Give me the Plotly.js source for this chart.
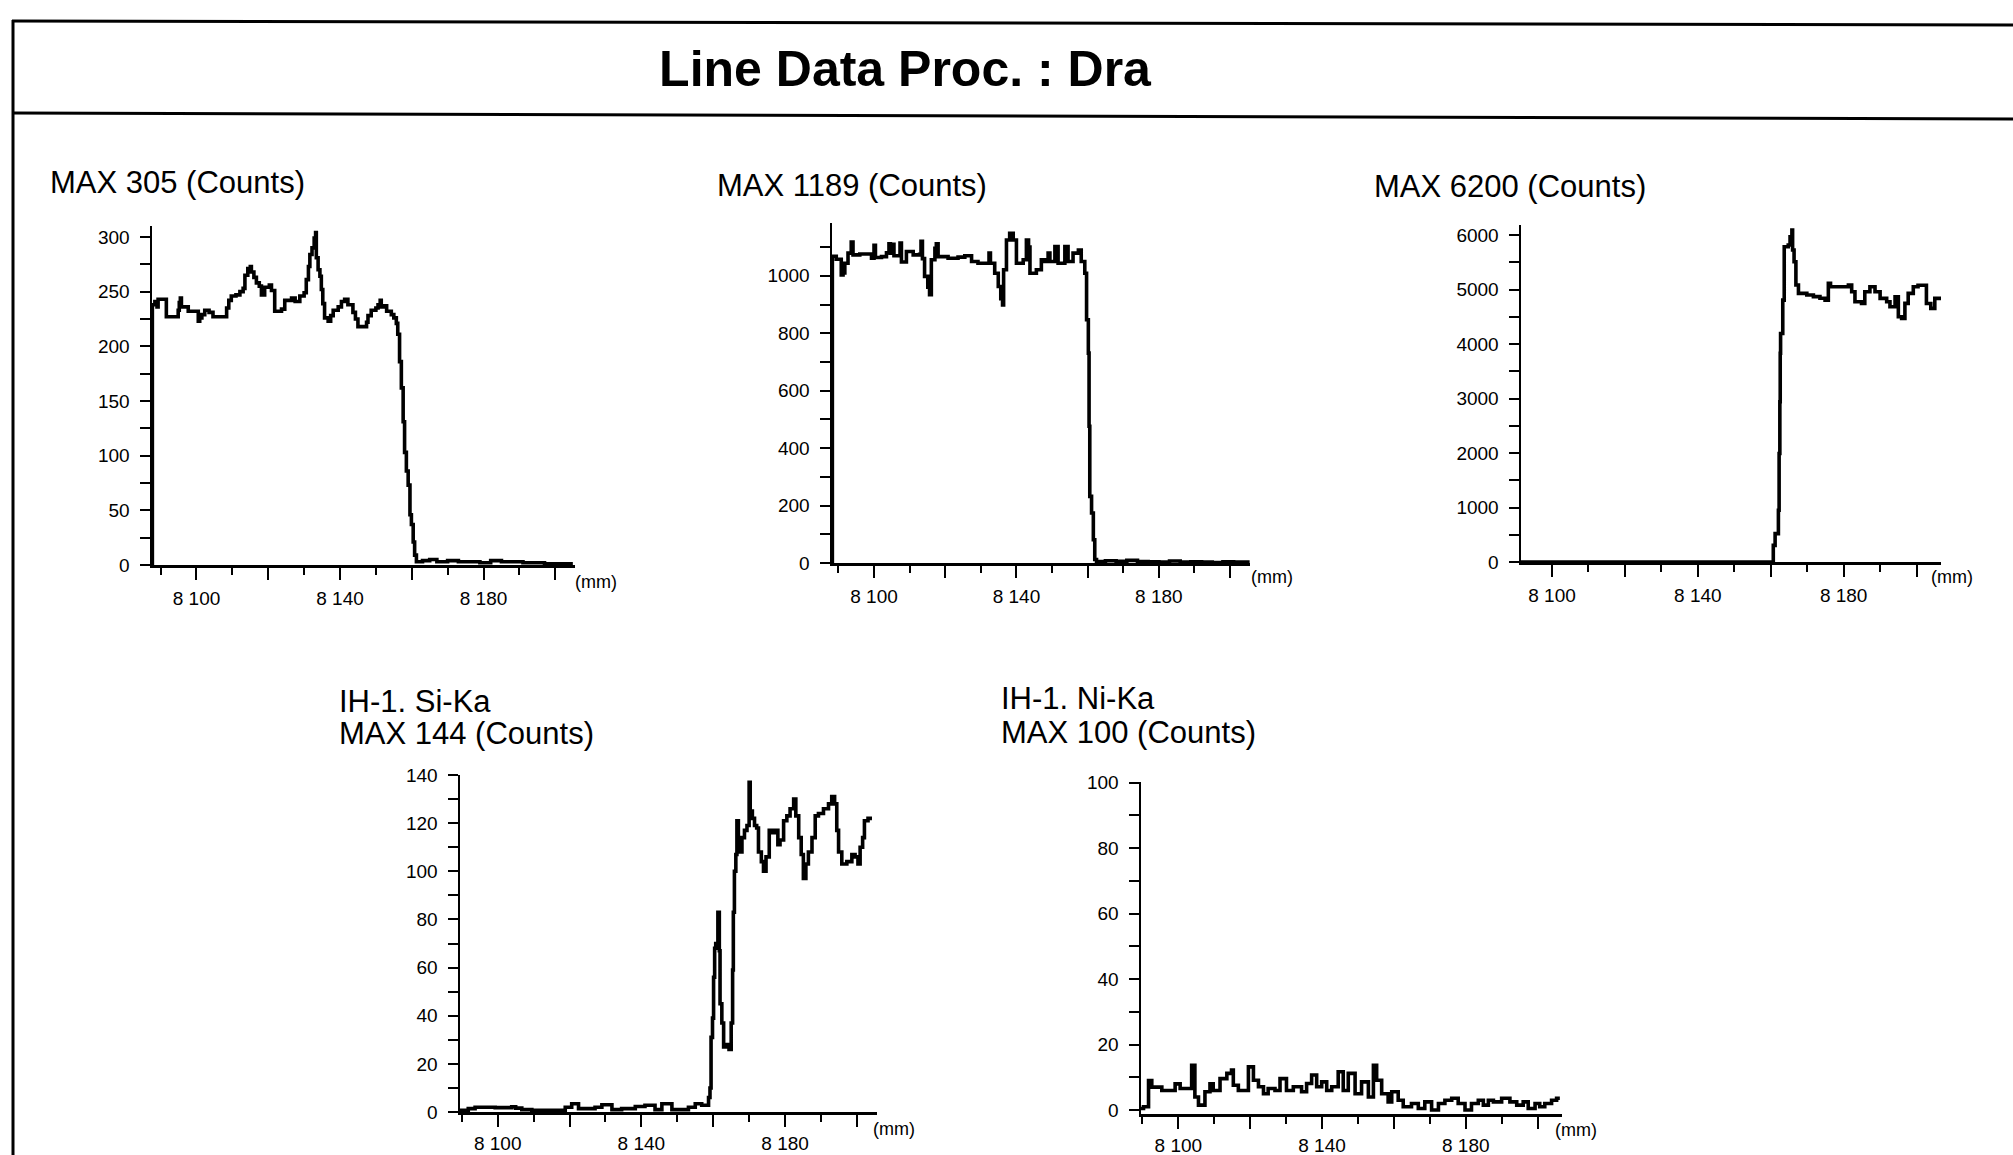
<!DOCTYPE html>
<html>
<head>
<meta charset="utf-8">
<script src="https://cdn.plot.ly/plotly-3.0.1.min.js"></script>
<style>html,body{margin:0;padding:0;background:#fff;}#chart{width:2013px;height:1155px;}</style>
</head>
<body>
<div id="chart"></div>
<script>
// ---------------- DATA ----------------
const mainTitle = 'Line Data Proc. : Dra';
const panelTitles = ['MAX 305 (Counts)', 'MAX 1189 (Counts)', 'MAX 6200 (Counts)', 'IH-1. Si-Ka<br>MAX 144 (Counts)', 'IH-1. Ni-Ka<br>MAX 100 (Counts)'];
const unitLabel = '(mm)';

// x tick labels (mm)
const xMajorVals = [8100, 8120, 8140, 8160, 8180, 8200];
const xMajorText = ['8 100', '', '8 140', '', '8 180', ''];
const xMinorVals = [8090, 8110, 8130, 8150, 8170, 8190];

// y ticks per panel
const p1YVals = [0, 25, 50, 75, 100, 125, 150, 175, 200, 225, 250, 275, 300];
const p1YText = ['0', '', '50', '', '100', '', '150', '', '200', '', '250', '', '300'];
const p2YVals = [0, 100, 200, 300, 400, 500, 600, 700, 800, 900, 1000, 1100];
const p2YText = ['0', '', '200', '', '400', '', '600', '', '800', '', '1000', ''];
const p3YVals = [0, 500, 1000, 1500, 2000, 2500, 3000, 3500, 4000, 4500, 5000, 5500, 6000];
const p3YText = ['0', '', '1000', '', '2000', '', '3000', '', '4000', '', '5000', '', '6000'];
const p4YVals = [0, 10, 20, 30, 40, 50, 60, 70, 80, 90, 100, 110, 120, 130, 140];
const p4YText = ['0', '', '20', '', '40', '', '60', '', '80', '', '100', '', '120', '', '140'];
const p5YVals = [0, 10, 20, 30, 40, 50, 60, 70, 80, 90, 100];
const p5YText = ['0', '', '20', '', '40', '', '60', '', '80', '', '100'];

// Series 1 (MAX 305)
const p1X = [8087.6, 8087.7, 8088.4, 8089.0, 8089.3, 8091.6, 8094.9, 8095.2, 8095.5, 8095.8, 8097.7, 8100.5, 8100.9, 8101.5, 8102.3, 8103.5, 8104.6, 8108.4, 8109.0, 8109.7, 8111.0, 8112.1, 8113.0, 8113.5, 8114.3, 8115.0, 8115.3, 8116.0, 8116.7, 8117.5, 8118.1, 8119.0, 8120.3, 8120.9, 8121.8, 8123.7, 8124.6, 8126.5, 8127.5, 8128.8, 8130.0, 8130.6, 8131.2, 8131.6, 8132.2, 8132.8, 8133.2, 8133.4, 8133.9, 8134.4, 8134.8, 8135.2, 8135.7, 8136.7, 8137.4, 8138.1, 8139.5, 8140.4, 8141.3, 8142.2, 8143.6, 8144.3, 8145.0, 8147.4, 8147.8, 8148.7, 8150.0, 8150.6, 8151.2, 8151.5, 8152.0, 8153.0, 8154.3, 8155.0, 8155.7, 8156.1, 8156.6, 8157.1, 8157.6, 8158.0, 8158.5, 8159.0, 8159.5, 8159.9, 8160.4, 8160.8, 8161.3, 8163, 8165, 8167, 8170, 8173, 8176, 8179, 8182, 8185, 8188, 8191, 8194, 8197, 8200, 8203, 8204.9];
const p1Y = [0, 238, 241, 236, 243, 227, 233, 240, 244, 236, 232, 223, 226, 229, 233, 231, 227, 235, 242, 246, 247, 250, 253, 265, 271, 273, 268, 263, 258, 255, 247, 254, 256, 251, 232, 234, 242, 244, 241, 246, 249, 261, 273, 284, 290, 299, 304, 281, 270, 264, 252, 239, 226, 223, 228, 233, 236, 241, 243, 238, 231, 225, 218, 222, 228, 233, 235, 238, 242, 236, 237, 232, 229, 226, 221, 211, 186, 162, 131, 103, 86, 73, 46, 37, 21, 9, 3, 4, 5, 3, 4, 3, 3, 2, 4, 3, 3, 2, 2, 1, 1, 1, 1];

// Series 2 (MAX 1189)
const p2X = [8088.2, 8088.3, 8089.4, 8090.8, 8091.3, 8091.8, 8092.7, 8093.6, 8094.1, 8096.0, 8099.3, 8100.0, 8100.4, 8102.1, 8103.5, 8104.2, 8104.6, 8105.1, 8105.6, 8107.3, 8107.7, 8109.1, 8111.0, 8112.8, 8113.2, 8113.6, 8114.2, 8115.1, 8115.6, 8116.1, 8117.1, 8117.5, 8118.0, 8120.8, 8123.6, 8125.5, 8127.4, 8129.2, 8132.3, 8132.7, 8133.9, 8134.9, 8135.6, 8136.1, 8136.4, 8137.2, 8138.1, 8139.1, 8140.0, 8141.9, 8142.8, 8143.4, 8143.8, 8145.6, 8147.0, 8148.0, 8148.9, 8149.4, 8150.8, 8151.7, 8153.6, 8154.5, 8155.9, 8157.4, 8158.2, 8159.2, 8159.7, 8160.2, 8160.4, 8160.6, 8161.1, 8161.6, 8162.0, 8162.5, 8165, 8168, 8171, 8174, 8177, 8180, 8183, 8186, 8189, 8192, 8195, 8198, 8201, 8205.5];
const p2Y = [0, 1068, 1058, 1003, 1010, 1044, 1079, 1118, 1073, 1076, 1061, 1106, 1064, 1067, 1080, 1112, 1079, 1110, 1070, 1114, 1048, 1085, 1073, 1075, 1120, 1060, 998, 960, 934, 1056, 1096, 1112, 1067, 1061, 1065, 1070, 1050, 1044, 1079, 1044, 1009, 963, 920, 899, 1021, 1125, 1148, 1125, 1044, 1056, 1125, 1100, 1009, 1021, 1056, 1050, 1079, 1050, 1102, 1044, 1102, 1050, 1079, 1090, 1050, 1009, 847, 731, 476, 232, 174, 81, 12, 5, 8, 6, 9, 5, 4, 3, 7, 3, 4, 3, 2, 4, 3, 3];

// Series 3 (MAX 6200)
const p3X = [8091.5, 8160.7, 8161.2, 8162.1, 8162.3, 8162.5, 8162.6, 8162.7, 8163.3, 8163.7, 8164.8, 8165.3, 8165.8, 8166.0, 8166.4, 8166.9, 8167.6, 8169.9, 8171.7, 8173.5, 8174.9, 8175.8, 8176.4, 8179.0, 8181.3, 8182.2, 8183.1, 8184.9, 8185.8, 8187.2, 8188.6, 8190.0, 8191.8, 8192.7, 8194.1, 8195.0, 8195.9, 8196.8, 8197.7, 8199.1, 8200.4, 8202.7, 8203.9, 8205.0, 8206.7];
const p3Y = [0, 306, 520, 950, 1990, 2940, 3830, 4195, 4807, 5787, 5817, 5970, 6093, 5725, 5511, 5083, 4930, 4900, 4870, 4840, 4807, 5113, 5052, 5052, 5083, 4960, 4777, 4746, 4960, 5052, 4960, 4838, 4777, 4685, 4868, 4500, 4470, 4746, 4930, 5052, 5080, 4745, 4654, 4838, 4868];

// Series 4 (IH-1. Si-Ka, MAX 144)
const p4X = [8089.5, 8091.8, 8093.7, 8099.3, 8103.9, 8105.0, 8106.7, 8109.5, 8118.8, 8120.6, 8122.5, 8127.1, 8129.0, 8131.8, 8134.5, 8138.3, 8141.0, 8143.8, 8145.7, 8148.5, 8153.1, 8155.0, 8156.8, 8158.7, 8159.1, 8159.4, 8159.8, 8160.1, 8160.4, 8160.7, 8161.3, 8161.7, 8161.9, 8162.4, 8162.9, 8163.8, 8164.4, 8165.0, 8165.4, 8165.6, 8165.9, 8166.3, 8166.6, 8167.0, 8167.5, 8168.0, 8168.7, 8169.4, 8170.0, 8170.3, 8170.9, 8171.5, 8172.1, 8172.6, 8173.4, 8174.0, 8174.7, 8175.6, 8176.3, 8177.3, 8178.0, 8178.6, 8179.6, 8180.5, 8181.4, 8182.4, 8183.0, 8183.8, 8184.5, 8185.1, 8185.8, 8186.5, 8187.5, 8188.4, 8189.3, 8190.7, 8192.1, 8193.0, 8193.8, 8194.4, 8194.9, 8195.8, 8197.2, 8198.6, 8199.5, 8200.3, 8200.9, 8201.6, 8202.1, 8203.1, 8204.2];
const p4Y = [0.7, 1.4, 2, 1.8, 2.2, 1.6, 1, 0.7, 2, 3.4, 1.4, 2, 3, 1, 1.4, 2.3, 2.8, 1, 3.4, 1, 2, 3.4, 2.8, 6, 10, 31, 39, 56, 68, 70, 83, 67, 45, 37, 27, 28, 26, 37, 59, 83, 100, 107, 121, 111, 108, 114, 117, 119, 137, 125, 122, 119, 118, 108, 104, 100, 106, 117, 116, 117, 111, 113, 121, 123, 126, 130, 123, 114, 107, 97, 103, 108, 114, 123, 124, 126, 128, 131, 128, 117, 108, 103, 104, 107, 106, 103, 110, 114, 121, 122, 122];

// Series 5 (IH-1. Ni-Ka, MAX 100)
const p5X = [8089.6, 8090.3, 8091.7, 8092.6, 8095.4, 8099.1, 8100.5, 8103.7, 8104.6, 8105.6, 8107.4, 8108.8, 8109.7, 8111.6, 8113.5, 8114.8, 8115.3, 8116.7, 8119.5, 8120.9, 8122.3, 8123.7, 8125.0, 8126.9, 8128.3, 8130.1, 8132.0, 8134.3, 8135.7, 8137.1, 8138.5, 8139.9, 8141.3, 8142.7, 8144.5, 8145.9, 8147.3, 8149.2, 8151.0, 8152.9, 8154.3, 8155.2, 8156.6, 8158.4, 8159.4, 8161.2, 8162.6, 8164.9, 8166.8, 8168.6, 8170.5, 8172.4, 8174.2, 8176.1, 8177.9, 8179.8, 8181.6, 8183.5, 8184.9, 8186.3, 8187.7, 8190.0, 8192.3, 8194.2, 8196.0, 8197.4, 8199.3, 8200.6, 8202.0, 8203.9, 8205.3, 8206.2];
const p5Y = [0.5, 1, 9, 7, 6, 8, 6.6, 13.7, 4, 1.5, 5.6, 8, 6, 9.6, 11.2, 12.2, 7.6, 6, 13.2, 9.1, 7.1, 5, 6.6, 6, 9.6, 6, 7.1, 5.6, 8.1, 10.7, 7.1, 8.6, 6, 7.1, 11.7, 6, 11.2, 5, 8.6, 4, 13.7, 9.1, 5, 2.5, 5.6, 3, 1, 2, 0.5, 2.5, 0, 2, 3, 3.6, 2, 0, 2, 3, 1.5, 3, 2.5, 3.6, 2.5, 1.5, 2.5, 0.5, 2, 1, 2, 3, 3.6, 3.6];

// ---------------- LAYOUT ----------------
const W = 2013, H = 1155;
const fx = v => v / W;
const fy = v => 1 - v / H;
const FONT = 'Liberation Sans, Arial, Helvetica, sans-serif';

const panels = [
  {l: 152, r: 575, t: 226, b: 565, xr: [8087.6, 8205.5], yr: [0, 310], yv: p1YVals, yt: p1YText, tx: 48, ty: [182], mmx: 573, mmy: 582, so: 3},
  {l: 832, r: 1250, t: 223, b: 563, xr: [8088.2, 8205.6], yr: [0, 1184], yv: p2YVals, yt: p2YText, tx: 715, ty: [185], mmx: 1249, mmy: 577, so: 3},
  {l: 1521, r: 1941, t: 225, b: 562, xr: [8091.5, 8206.7], yr: [0, 6185], yv: p3YVals, yt: p3YText, tx: 1372, ty: [187], mmx: 1929, mmy: 577, so: 3},
  {l: 460, r: 877, t: 775, b: 1112, xr: [8089.5, 8205.6], yr: [0, 140], yv: p4YVals, yt: p4YText, tx: 337, ty: [701, 733], mmx: 871, mmy: 1129, so: 1},
  {l: 1141, r: 1562, t: 782, b: 1114, xr: [8089.6, 8206.8], yr: [-1.2, 100.2], yv: p5YVals, yt: p5YText, tx: 999, ty: [698, 732], mmx: 1553, mmy: 1130, so: 1}
];
const seriesX = [p1X, p2X, p3X, p4X, p5X];
const seriesY = [p1Y, p2Y, p3Y, p4Y, p5Y];

const data = [];
const layout = {
  width: W, height: H,
  margin: {l: 0, r: 0, t: 0, b: 0, pad: 0},
  paper_bgcolor: '#ffffff', plot_bgcolor: '#ffffff',
  showlegend: false,
  font: {family: FONT, color: '#000'},
  title: {
    text: '<b>' + mainTitle + '</b>',
    x: fx(905), xref: 'paper', xanchor: 'center',
    y: 1 - 68 / H, yref: 'container', yanchor: 'middle',
    font: {family: FONT, size: 50, color: '#000'}
  },
  annotations: [],
  shapes: [
    {type: 'line', xref: 'paper', yref: 'paper', x0: fx(12), y0: fy(21), x1: fx(2013), y1: fy(25), line: {color: '#000', width: 3}},
    {type: 'line', xref: 'paper', yref: 'paper', x0: fx(12), y0: fy(113), x1: fx(2013), y1: fy(119), line: {color: '#000', width: 3}},
    {type: 'line', xref: 'paper', yref: 'paper', x0: fx(13), y0: fy(20), x1: fx(13), y1: fy(1155), line: {color: '#000', width: 3}}
  ]
};

panels.forEach((p, i) => {
  const n = i + 1;
  const xa = n === 1 ? 'xaxis' : 'xaxis' + n;
  const ya = n === 1 ? 'yaxis' : 'yaxis' + n;
  const xid = n === 1 ? 'x' : 'x' + n;
  const yid = n === 1 ? 'y' : 'y' + n;
  data.push({
    type: 'scatter', mode: 'lines', x: seriesX[i], y: seriesY[i],
    xaxis: xid, yaxis: yid,
    line: {color: '#000', width: 3.6, shape: 'hv'},
    hoverinfo: 'skip'
  });
  layout[xa] = {
    domain: [fx(p.l), fx(p.r)], anchor: yid, range: p.xr,
    showline: true, linecolor: '#000', linewidth: 2.5,
    showgrid: false, zeroline: false,
    tickmode: 'array', tickvals: xMajorVals, ticktext: xMajorText,
    ticks: 'outside', ticklen: 12, tickwidth: 2, tickcolor: '#000',
    ticklabelstandoff: p.so,
    minor: {tickvals: xMinorVals, ticks: 'outside', ticklen: 7, tickwidth: 2, tickcolor: '#000', showgrid: false},
    tickfont: {family: FONT, size: 19, color: '#000'},
    fixedrange: true
  };
  layout[ya] = {
    domain: [fy(p.b), fy(p.t)], anchor: xid, range: p.yr,
    showline: true, linecolor: '#000', linewidth: 2.5,
    showgrid: false, zeroline: false,
    tickmode: 'array', tickvals: p.yv, ticktext: p.yt,
    ticks: 'outside', ticklen: 10, tickwidth: 2, tickcolor: '#000',
    ticklabelstandoff: 6,
    tickfont: {family: FONT, size: 19, color: '#000'},
    fixedrange: true
  };
  const lines = panelTitles[i].split('<br>');
  lines.forEach((t, k) => {
    layout.annotations.push({
      text: t, xref: 'paper', yref: 'paper', x: fx(p.tx), y: fy(p.ty[k]),
      xanchor: 'left', yanchor: 'middle', showarrow: false,
      font: {family: FONT, size: 31, color: '#000'}
    });
  });
  layout.annotations.push({
    text: unitLabel, xref: 'paper', yref: 'paper', x: fx(p.mmx), y: fy(p.mmy),
    xanchor: 'left', yanchor: 'middle', showarrow: false,
    font: {family: FONT, size: 18, color: '#000'}
  });
});

Plotly.newPlot('chart', data, layout, {staticPlot: true, displayModeBar: false});
</script>
</body>
</html>
